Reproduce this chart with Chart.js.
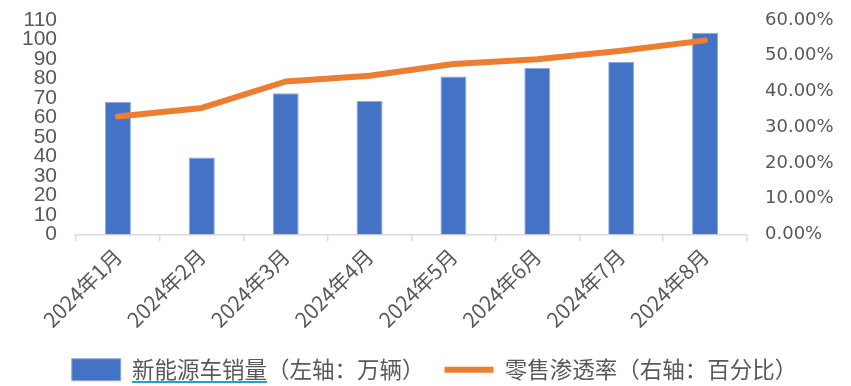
<!DOCTYPE html>
<html>
<head>
<meta charset="utf-8">
<script src="https://cdn.jsdelivr.net/npm/chart.js@4"></script>
<style>
  html, body { margin: 0; padding: 0; background: #fff; }
  #wrap { width: 851px; height: 386px; }
</style>
</head>
<body>
<div id="wrap"><canvas id="nevChart"></canvas></div>
<script>
// chart data
var months = ["2024年1月", "2024年2月", "2024年3月", "2024年4月", "2024年5月", "2024年6月", "2024年7月", "2024年8月"];
var nevSales = [68, 39.5, 72.5, 68.5, 81, 85.5, 88.5, 103.5];          // 万辆, left axis
var retailPenetration = [33.0, 35.4, 42.8, 44.4, 47.7, 49.0, 51.4, 54.3]; // %, right axis
var leftAxisMax = 110;
var rightAxisMax = 60;
var axisStep = 10;

document.addEventListener("DOMContentLoaded", function () {
    var grey = '#595959';
    var legendFont = { family: "'Noto Sans CJK SC'", size: 22.5 };

    // fixed sizes so the plot area lines up with the picture
    function noPad(scale) {
        scale.paddingTop = 0;
        scale.paddingBottom = 0;
        scale.paddingLeft = 0;
        scale.paddingRight = 0;
    }

    // move legend a bit and draw the wavy-ish underline seen in the original
    var legendTweak = {
        id: 'legendTweak',
        afterLayout: function (chart) {
            var lg = chart.legend;
            lg.left += 9;
            lg.right += 9;
            lg.top += 5;
            lg.bottom += 5;
        },
        afterDraw: function (chart) {
            var lg = chart.legend;
            var box = null;
            lg.legendItems.forEach(function (item, i) {
                if (item.datasetIndex === 1) box = lg.legendHitBoxes[i];
            });
            if (!box) return;
            var c = chart.ctx;
            c.save();
            c.font = legendFont.size + "px " + legendFont.family;
            var textX = box.left + 49 + legendFont.size / 2;
            var w = c.measureText('新能源车销量').width;
            c.strokeStyle = '#1aa6c8';
            c.lineWidth = 2;
            c.beginPath();
            c.moveTo(textX, box.top + box.height + 1);
            c.lineTo(textX + w, box.top + box.height + 1);
            c.stroke();
            c.restore();
        }
    };

    var ctx = document.getElementById('nevChart').getContext('2d');
    var nevChart = new Chart(ctx, {
        type: 'bar',
        data: {
            labels: months,
            datasets: [{
                type: 'line',
                label: '零售渗透率（右轴：百分比）',
                data: retailPenetration,
                yAxisID: 'yRight',
                borderColor: '#ED7D31',
                backgroundColor: '#ED7D31',
                borderWidth: 6,
                borderCapStyle: 'round',
                borderJoinStyle: 'round',
                pointRadius: 0,
                pointStyle: 'line',
                tension: 0,
                order: 0
            }, {
                label: '新能源车销量（左轴：万辆）',
                data: nevSales,
                yAxisID: 'yLeft',
                backgroundColor: '#4472C4',
                borderColor: '#8faadc',
                borderWidth: 1,
                pointStyle: 'rect',
                barPercentage: 0.31,
                categoryPercentage: 1,
                order: 1
            }]
        },
        options: {
            responsive: true,
            maintainAspectRatio: false,
            animation: false,
            devicePixelRatio: 1,
            layout: { padding: { top: 20, left: 0, right: 0, bottom: 0 } },
            plugins: {
                tooltip: { enabled: false },
                legend: {
                    position: 'bottom',
                    reverse: true,
                    labels: {
                        usePointStyle: true,
                        pointStyleWidth: 49,
                        boxHeight: 22,
                        padding: 20,
                        color: grey,
                        font: legendFont
                    }
                }
            },
            scales: {
                x: {
                    offset: true,
                    grid: {
                        display: true,
                        offset: true,
                        drawOnChartArea: false,
                        drawTicks: true,
                        tickLength: 7,
                        color: '#d9d9d9',
                        lineWidth: 1.5
                    },
                    border: { display: true, color: '#d9d9d9', width: 1.5 },
                    ticks: {
                        autoSkip: false,
                        minRotation: 45,
                        maxRotation: 45,
                        padding: 2,
                        color: grey,
                        font: { family: "'Noto Sans CJK SC'", size: 21 }
                    },
                    afterFit: function (scale) { scale.height = 99; noPad(scale); }
                },
                yLeft: {
                    position: 'left',
                    min: 0,
                    max: leftAxisMax,
                    grid: { display: false, drawTicks: false },
                    border: { display: false },
                    ticks: {
                        stepSize: axisStep,
                        autoSkip: false,
                        padding: 19,
                        color: grey,
                        font: { family: "'Liberation Sans Narrow', 'Liberation Sans'", size: 21, lineHeight: 1 }
                    },
                    afterFit: function (scale) { scale.width = 76; noPad(scale); }
                },
                yRight: {
                    position: 'right',
                    min: 0,
                    max: rightAxisMax,
                    grid: { display: false, drawTicks: false },
                    border: { display: false },
                    ticks: {
                        stepSize: axisStep,
                        autoSkip: false,
                        padding: 18,
                        color: grey,
                        font: { family: "'DejaVu Sans'", size: 18, lineHeight: 1 },
                        callback: function (v) { return v.toFixed(2) + '%'; }
                    },
                    afterFit: function (scale) { scale.width = 104; noPad(scale); }
                }
            }
        },
        plugins: [legendTweak]
    });
});
</script>
</body>
</html>
